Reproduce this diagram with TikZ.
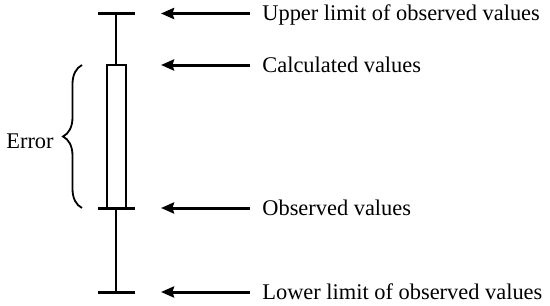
\documentclass[tikz,border=0pt]{standalone}
\usepackage{fontspec}
\setmainfont{Liberation Serif}
\usepackage{tikz}
\usetikzlibrary{positioning,arrows.meta,decorations.pathreplacing,calc}

\begin{document}
\begin{tikzpicture}[
  x=0.5pt, y=-0.5pt,
  bar/.style={line width=1.5pt},
  whisker/.style={line width=1.2pt},
  label/.style={anchor=west, inner xsep=6pt, inner ysep=0pt, text height=7.4pt, text depth=0pt, font=\fontsize{11.2}{13}\selectfont},
  pointer/.style={line width=1.5pt, {Stealth[length=6.5pt,width=5.5pt,inset=0.8pt]}-},
  >=Stealth
]
  \useasboundingbox (0,0) rectangle (550,305);

  % Error bar
  \coordinate (top) at (116,13.5);
  \coordinate (calc) at (116,65);
  \coordinate (obs) at (116,208);
  \coordinate (bot) at (116,292);
  \foreach \c in {top, obs, bot} {
    \draw[bar] ($(\c)+(-18,0)$) -- ($(\c)+(19,0)$);
  }
  \draw[whisker] (top) -- (calc);
  \draw[whisker] (obs) -- (bot);
  \draw[whisker] ($(calc)+(-9,0)$) rectangle ($(obs)+(10,0)$);

  % Labels
  \foreach \i/\y/\name in {1/13.5/Upper limit of observed values, 2/65/Calculated values, 3/208/Observed values, 4/292/Lower limit of observed values} {
    \node[label] (l\i) at (250,\y) {\name};
    \coordinate (a\i) at (161,\y);
    \draw[pointer] (a\i) -- (l\i.west);
  }

  % Error brace
  \draw[line width=0.9pt, decorate, decoration={brace, amplitude=9.5pt}] (82,208) -- (82,65);
  \node[font=\fontsize{11.2}{13}\selectfont, inner sep=0pt] (err) at (30,141.5) {Error};
\end{tikzpicture}
\end{document}
